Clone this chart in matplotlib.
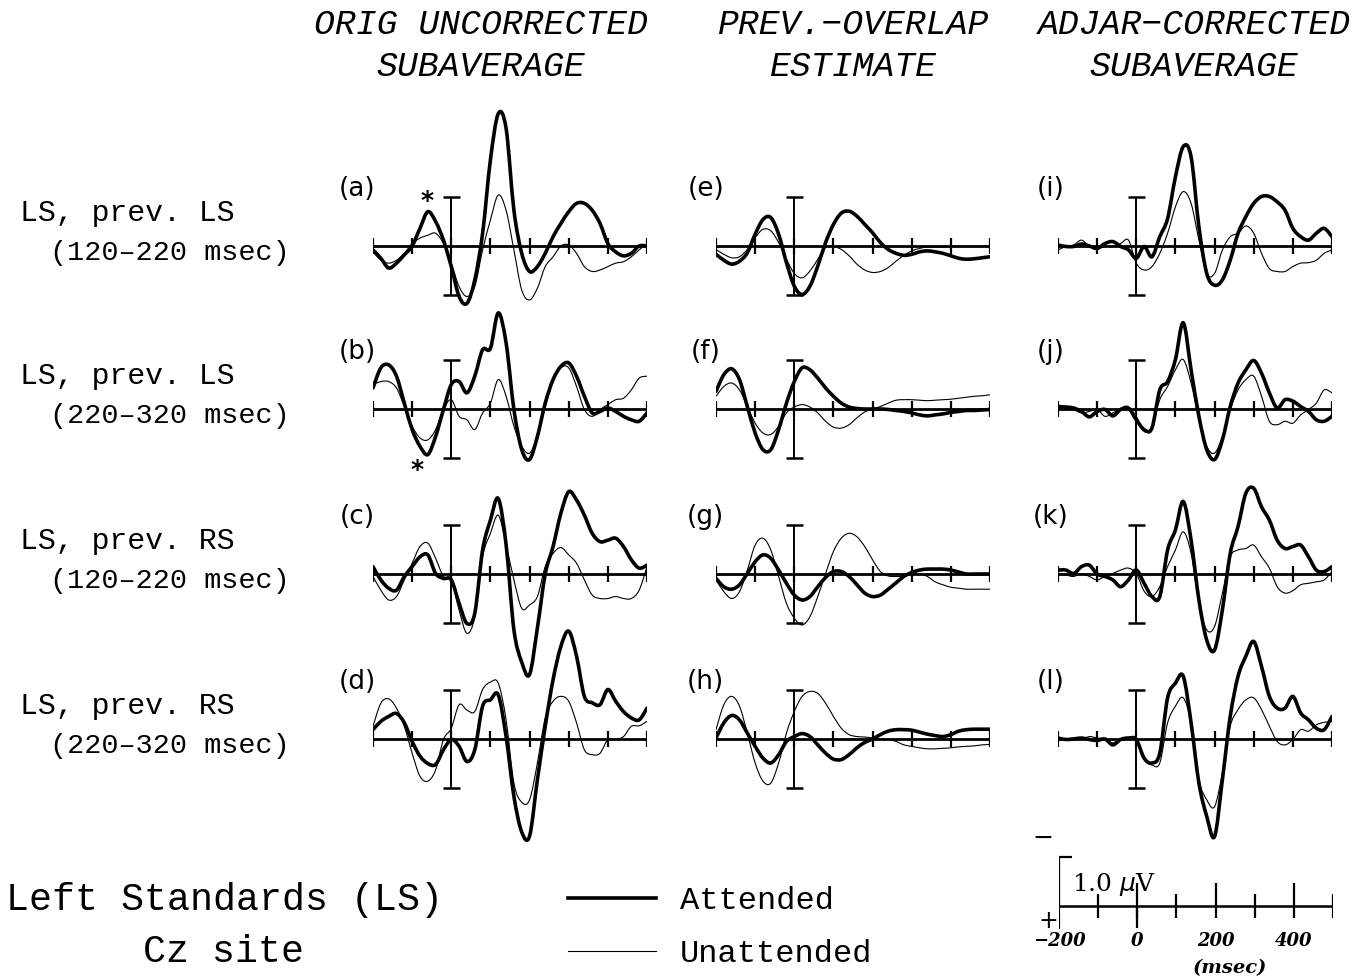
import numpy as np
import matplotlib
matplotlib.use("Agg")
import matplotlib.pyplot as plt
from matplotlib.path import Path
from matplotlib.patches import PathPatch
from matplotlib.lines import Line2D

plt.rcParams["font.family"] = ["Liberation Mono", "DejaVu Sans"]

W, H = 1369, 977

# time base of the waveforms (msec), one value every 20 msec
t = np.arange(-200, 501, 20)

# ---- waveforms (microvolts, negative plotted up) ----
# column 1: original uncorrected subaverage
a_att = [0.08, 0.25, 0.45, 0.35, 0.18, 0.0, -0.36, -0.70, -0.50, -0.12, 0.42, 1.03, 1.17, 0.69, -0.26, -1.76, -2.70, -2.40, -0.73, 0.15, 0.52, 0.42, 0.15, -0.19, -0.46, -0.70, -0.87, -0.87, -0.73, -0.46, -0.05, 0.12, 0.20, 0.15, 0.0, 0.0]
a_un = [0.12, 0.29, 0.35, 0.29, 0.15, -0.05, -0.16, -0.22, -0.26, -0.05, 0.35, 0.83, 1.03, 0.83, 0.08, -0.53, -1.04, -0.73, 0.08, 0.90, 1.10, 0.86, 0.42, 0.22, 0.0, -0.02, 0.15, 0.42, 0.52, 0.49, 0.42, 0.35, 0.32, 0.22, 0.08, -0.05]
b_att = [-0.43, -0.84, -0.90, -0.67, -0.12, 0.42, 0.76, 0.93, 0.56, 0.01, -0.50, -0.56, -0.33, -0.67, -1.21, -1.24, -1.96, -1.35, 0.01, 0.83, 1.03, 0.56, -0.12, -0.60, -0.87, -0.94, -0.67, -0.26, 0.08, 0.05, -0.02, 0.05, 0.15, 0.22, 0.25, 0.08]
b_un = [-0.50, -0.56, -0.56, -0.43, -0.05, 0.35, 0.59, 0.63, 0.42, 0.01, -0.19, 0.15, 0.22, 0.42, 0.08, -0.12, -0.60, -0.26, 0.35, 0.76, 0.90, 0.56, -0.05, -0.56, -0.84, -0.84, -0.46, 0.01, 0.15, 0.01, -0.09, -0.19, -0.22, -0.39, -0.63, -0.67]
c_att = [-0.15, 0.12, 0.29, 0.33, 0.05, -0.15, -0.35, -0.39, -0.01, 0.09, 0.12, 0.60, 1.01, 0.80, -0.49, -1.10, -1.54, -0.60, 1.14, 1.80, 2.05, 1.10, 0.0, -0.56, -1.24, -1.68, -1.51, -1.20, -0.83, -0.66, -0.69, -0.73, -0.56, -0.29, -0.12, -0.18]
c_un = [0.05, 0.33, 0.53, 0.46, 0.12, -0.22, -0.56, -0.63, -0.32, 0.05, 0.12, 0.74, 1.21, 0.87, -0.35, -0.83, -1.20, -0.60, 0.12, 0.70, 0.63, 0.46, -0.15, -0.42, -0.54, -0.39, -0.22, 0.12, 0.43, 0.50, 0.50, 0.46, 0.50, 0.50, 0.33, -0.15]
d_att = [-0.19, -0.36, -0.46, -0.52, -0.33, 0.05, 0.35, 0.50, 0.52, 0.22, 0.01, 0.15, 0.46, 0.22, -0.67, -0.80, -0.90, -0.05, 1.17, 1.90, 1.98, 0.83, -0.26, -1.21, -1.89, -2.20, -1.69, -0.87, -0.74, -0.70, -1.01, -0.77, -0.56, -0.43, -0.39, -0.63]
d_un = [-0.26, -0.73, -0.82, -0.63, -0.26, 0.29, 0.76, 0.86, 0.63, 0.01, -0.22, -0.70, -0.59, -0.56, -1.01, -1.16, -1.14, -0.39, 0.90, 1.29, 1.24, 0.49, -0.43, -0.77, -0.87, -0.77, -0.33, 0.22, 0.32, 0.29, 0.01, 0.01, -0.05, -0.26, -0.27, -0.36]

# column 2: previous-overlap estimate
e_att = [0.17, 0.29, 0.37, 0.31, 0.14, -0.24, -0.54, -0.58, -0.24, 0.34, 0.82, 0.99, 0.82, 0.41, -0.07, -0.44, -0.67, -0.71, -0.61, -0.44, -0.27, -0.07, 0.07, 0.15, 0.19, 0.17, 0.12, 0.10, 0.12, 0.15, 0.20, 0.25, 0.27, 0.26, 0.24, 0.22]
e_un = [0.07, 0.17, 0.24, 0.22, 0.07, -0.17, -0.34, -0.31, -0.07, 0.27, 0.56, 0.65, 0.51, 0.27, 0.03, 0.01, 0.07, 0.20, 0.37, 0.49, 0.54, 0.52, 0.44, 0.31, 0.19, 0.10, 0.05, 0.02, 0.02, 0.02, 0.01, 0.01, 0.01, 0.01, 0.01, 0.01]
f_att = [-0.36, -0.70, -0.82, -0.60, -0.05, 0.49, 0.83, 0.83, 0.42, -0.12, -0.56, -0.84, -0.80, -0.63, -0.43, -0.26, -0.12, -0.04, -0.01, 0.0, 0.0, 0.0, 0.01, 0.03, 0.05, 0.08, 0.12, 0.14, 0.12, 0.10, 0.07, 0.05, 0.03, 0.03, 0.02, 0.01]
f_un = [-0.26, -0.46, -0.53, -0.39, -0.05, 0.29, 0.49, 0.52, 0.35, 0.08, -0.04, -0.09, -0.04, 0.08, 0.25, 0.37, 0.39, 0.32, 0.18, 0.06, 0.0, -0.05, -0.12, -0.18, -0.19, -0.19, -0.18, -0.17, -0.18, -0.19, -0.20, -0.22, -0.24, -0.26, -0.27, -0.29]
g_att = [0.09, 0.26, 0.31, 0.22, -0.01, -0.25, -0.39, -0.32, -0.08, 0.19, 0.43, 0.53, 0.46, 0.26, 0.07, -0.05, -0.05, 0.05, 0.22, 0.39, 0.46, 0.43, 0.31, 0.18, 0.05, -0.03, -0.08, -0.10, -0.10, -0.10, -0.08, -0.04, 0.0, 0.0, 0.0, 0.0]
g_un = [0.12, 0.36, 0.50, 0.36, -0.08, -0.59, -0.73, -0.49, 0.05, 0.60, 0.90, 1.04, 0.87, 0.46, -0.01, -0.46, -0.73, -0.83, -0.76, -0.56, -0.29, -0.05, 0.04, 0.05, 0.04, 0.0, 0.0, 0.05, 0.16, 0.22, 0.27, 0.29, 0.31, 0.31, 0.31, 0.31]
h_att = [-0.02, -0.33, -0.48, -0.39, -0.12, 0.15, 0.39, 0.49, 0.32, 0.05, -0.05, -0.11, -0.05, 0.12, 0.29, 0.41, 0.42, 0.32, 0.18, 0.07, 0.0, -0.09, -0.16, -0.19, -0.19, -0.18, -0.14, -0.10, -0.07, -0.05, -0.09, -0.16, -0.19, -0.20, -0.20, -0.20]
h_un = [-0.19, -0.70, -0.87, -0.67, -0.12, 0.49, 0.86, 0.90, 0.49, -0.12, -0.56, -0.87, -0.97, -0.93, -0.73, -0.46, -0.22, -0.09, -0.05, -0.04, -0.02, 0.0, 0.01, 0.05, 0.12, 0.15, 0.18, 0.20, 0.20, 0.19, 0.18, 0.16, 0.15, 0.14, 0.12, 0.11]

# column 3: ADJAR-corrected subaverage
i_att = [-0.02, 0.01, 0.01, -0.04, 0.0, 0.05, -0.05, -0.09, 0.01, 0.08, 0.25, 0.01, 0.22, -0.19, -0.56, -1.41, -2.03, -1.82, -0.39, 0.56, 0.80, 0.69, 0.29, -0.26, -0.60, -0.87, -1.01, -1.01, -0.90, -0.73, -0.36, -0.19, -0.12, -0.26, -0.36, -0.19]
i_un = [0.08, 0.01, -0.02, -0.12, 0.01, 0.05, 0.01, 0.01, -0.05, -0.12, 0.35, 0.49, 0.42, 0.15, -0.26, -0.80, -1.11, -0.87, -0.12, 0.56, 0.56, 0.08, -0.19, -0.26, -0.41, -0.26, 0.15, 0.46, 0.52, 0.52, 0.42, 0.35, 0.34, 0.29, 0.15, 0.08]
j_att = [-0.05, -0.04, -0.02, 0.05, 0.16, 0.05, 0.01, 0.14, 0.01, -0.02, 0.22, 0.42, 0.39, -0.39, -0.56, -1.01, -1.76, -0.80, 0.15, 0.83, 1.03, 0.63, -0.05, -0.53, -0.80, -0.99, -0.73, -0.33, -0.02, -0.19, -0.16, -0.05, 0.05, 0.22, 0.25, 0.15]
j_un = [-0.02, -0.05, 0.01, 0.08, 0.05, 0.01, 0.15, 0.08, 0.01, -0.02, 0.15, 0.46, 0.35, -0.19, -0.46, -0.80, -1.01, -0.53, 0.22, 0.76, 0.90, 0.56, 0.01, -0.39, -0.60, -0.67, -0.26, 0.25, 0.32, 0.25, 0.29, 0.12, 0.01, -0.12, -0.39, -0.33]
k_att = [-0.08, -0.08, -0.01, -0.15, -0.18, 0.0, 0.05, 0.12, 0.26, 0.12, -0.08, 0.19, 0.46, 0.46, -0.49, -0.90, -1.48, -0.69, 0.53, 1.35, 1.55, 0.73, -0.42, -0.97, -1.65, -1.75, -1.37, -1.10, -0.69, -0.52, -0.56, -0.59, -0.35, -0.08, -0.05, -0.15]
k_un = [-0.01, 0.02, 0.05, -0.01, 0.05, 0.12, 0.05, -0.01, -0.08, -0.12, -0.01, 0.35, 0.46, 0.26, -0.15, -0.49, -0.86, -0.42, 0.60, 1.14, 1.07, 0.39, -0.35, -0.49, -0.52, -0.59, -0.35, -0.12, 0.26, 0.39, 0.34, 0.22, 0.19, 0.16, 0.12, -0.05]
l_att = [-0.02, 0.01, 0.0, -0.02, 0.01, 0.03, 0.0, 0.12, 0.01, -0.02, 0.01, 0.39, 0.49, 0.29, -0.84, -1.14, -1.28, -0.33, 0.90, 1.58, 1.99, 0.83, -0.46, -1.28, -1.69, -1.99, -1.48, -0.87, -0.63, -0.63, -0.87, -0.53, -0.39, -0.22, -0.19, -0.46]
l_un = [0.01, 0.0, -0.02, 0.01, -0.05, -0.02, 0.0, 0.08, 0.0, -0.01, 0.01, 0.42, 0.53, 0.49, -0.33, -0.67, -0.84, -0.33, 0.83, 1.24, 1.38, 0.69, -0.26, -0.60, -0.80, -0.84, -0.60, -0.26, 0.05, 0.12, 0.01, -0.19, -0.16, -0.29, -0.34, -0.36]

attended = [[a_att, e_att, i_att], [b_att, f_att, j_att], [c_att, g_att, k_att], [d_att, h_att, l_att]]
unattended = [[a_un, e_un, i_un], [b_un, f_un, j_un], [c_un, g_un, k_un], [d_un, h_un, l_un]]
letters = [["(a)", "(e)", "(i)"], ["(b)", "(f)", "(j)"], ["(c)", "(g)", "(k)"], ["(d)", "(h)", "(l)"]]

col_titles = [["ORIG UNCORRECTED", "SUBAVERAGE"],
              ["PREV.\u2212OVERLAP", "ESTIMATE"],
              ["ADJAR\u2212CORRECTED", "SUBAVERAGE"]]
row_labels = [["LS, prev. LS", "(120\u2013220 msec)"],
              ["LS, prev. LS", "(220\u2013320 msec)"],
              ["LS, prev. RS", "(120\u2013220 msec)"],
              ["LS, prev. RS", "(220\u2013320 msec)"]]
cal_ticks = [-200, 0, 200, 400]

# layout (pixels)
col_x0 = [373, 716, 1058]          # position of -200 msec
row_base = [246, 409, 574, 739]    # baseline of each row
title_cx = [481, 853, 1194]
PX_MS = 274 / 700.0
PX_UV = 49.0


def panel_axes(x0, yb, vtop=-3.2, vbot=3.0):
    top = yb + vtop * PX_UV
    bot = yb + vbot * PX_UV
    ax = fig.add_axes([x0 / W, 1 - bot / H, 700 * PX_MS / W, (bot - top) / H])
    ax.set_xlim(-200, 500)
    ax.set_ylim(vbot, vtop)   # negative up
    ax.axis("off")
    return ax


def draw_frame(ax):
    ax.axhline(0, color="black", lw=2.0)
    ax.vlines(np.arange(-200, 501, 100), -0.17, 0.17, color="black", lw=1.6)
    ax.vlines(0, -1, 1, color="black", lw=1.4)
    ax.hlines([-1, 1], -22, 22, color="black", lw=1.8)


def smooth_curve(ax, x, y, lw):
    # smooth pen trace through the sampled values (Catmull-Rom as cubic Bezier)
    x = np.asarray(x, float)
    y = np.asarray(y, float)
    px = np.concatenate([[x[0]], x, [x[-1]]])
    py = np.concatenate([[y[0]], y, [y[-1]]])
    verts = [(x[0], y[0])]
    codes = [Path.MOVETO]
    for i in range(1, len(px) - 2):
        c1 = (px[i] + (px[i + 1] - px[i - 1]) / 6, py[i] + (py[i + 1] - py[i - 1]) / 6)
        c2 = (px[i + 1] - (px[i + 2] - px[i]) / 6, py[i + 1] - (py[i + 2] - py[i]) / 6)
        verts += [c1, c2, (px[i + 1], py[i + 1])]
        codes += [Path.CURVE4] * 3
    ax.add_patch(PathPatch(Path(verts, codes), fill=False, lw=lw, ec="black",
                           joinstyle="round", capstyle="round"))


fig = plt.figure(figsize=(W / 100, H / 100), dpi=100)

letter_t = [-241, -226, -218]
for r in range(4):
    for c in range(3):
        ax = panel_axes(col_x0[c], row_base[r])
        draw_frame(ax)
        smooth_curve(ax, t, unattended[r][c], 0.8)
        smooth_curve(ax, t, attended[r][c], 2.6)
        ax.text(letter_t[c], -1.17, letters[r][c], ha="center", va="center",
                fontsize=19, family="DejaVu Sans")
        if r == 0 and c == 0:
            ax.text(-62, -0.92, "*", ha="center", va="center", fontsize=18,
                    fontweight="bold", family="DejaVu Sans")
        if r == 1 and c == 0:
            ax.text(-88, 1.25, "*", ha="center", va="center", fontsize=18,
                    fontweight="bold", family="DejaVu Sans")

# column titles
for c in range(3):
    for k, y in enumerate([25, 66]):
        fig.text(title_cx[c] / W, 1 - y / H, col_titles[c][k], ha="center", va="center",
                 fontsize=25, style="italic")

# row labels
for r in range(4):
    yb = row_base[r]
    fig.text(20 / W, 1 - (yb - 33) / H, row_labels[r][0], ha="left", va="center", fontsize=21.5)
    fig.text(50 / W, 1 - (yb + 7) / H, row_labels[r][1], ha="left", va="center", fontsize=20.5)

# bottom-left caption
fig.text(225 / W, 1 - 900 / H, "Left Standards (LS)", ha="center", va="center", fontsize=27.5)
fig.text(223 / W, 1 - 952 / H, "Cz site", ha="center", va="center", fontsize=27.5)

# legend
handles = [Line2D([], [], color="black", lw=2.6), Line2D([], [], color="black", lw=0.8)]
fig.legend(handles, ["Attended", "Unattended"], loc="upper left",
           bbox_to_anchor=(568 / W, 1 - 886 / H), frameon=False, fontsize=23,
           handlelength=2.75, handletextpad=0.75, labelspacing=0.72,
           borderpad=0, borderaxespad=0)

# calibration
cal = panel_axes(1059, 906, vtop=-1.6, vbot=1.5)
cal.axhline(0, color="black", lw=1.8)
cal.vlines([-100, 100, 300, 500], -0.24, 0.24, color="black", lw=1.6)
cal.vlines([0, 200, 400], -0.47, 0.24, color="black", lw=1.6)
cal.vlines(0, 0, 0.45, color="black", lw=1.6)
cal.vlines(-200, -1, 0.47, color="black", lw=1.6)
cal.hlines(-1, -200, -168, color="black", lw=1.6)
cal.text(-241, -1.38, "\u2212", ha="center", va="center", fontsize=18, family="DejaVu Sans")
cal.text(-228, 0.30, "+", ha="center", va="center", fontsize=17, family="DejaVu Sans")
cal.text(-168, -0.43, "1.0 $\\mu$V", ha="left", va="center", fontsize=18, family="DejaVu Serif")
for tk in cal_ticks:
    lab = "\u2212200" if tk < 0 else str(tk)
    cal.text(tk, 0.72, lab, ha="center", va="center", fontsize=13, style="italic",
             fontweight="bold", family="DejaVu Serif")
cal.text(237, 1.26, "(msec)", ha="center", va="center", fontsize=14, style="italic",
         fontweight="bold", family="DejaVu Serif")

fig.savefig("out.png", dpi=100)
